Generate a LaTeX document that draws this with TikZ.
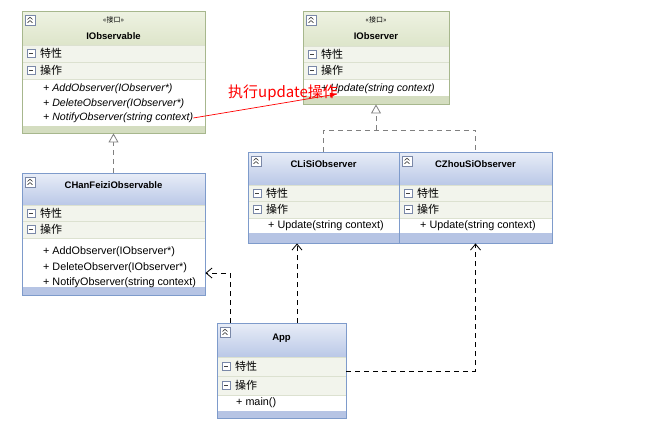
\documentclass[tikz,border=0pt]{standalone}
\usepackage{fontspec}
\setmainfont{Liberation Sans}
\newfontfamily\cjk{Noto Sans CJK SC}
\usetikzlibrary{arrows.meta,fit}
\definecolor{greentop}{HTML}{EEF2E2}
\definecolor{greenbot}{HTML}{DDE5CA}
\definecolor{greenstrip}{HTML}{D4DDC0}
\definecolor{greenborder}{HTML}{A7B78D}
\definecolor{bluetop}{HTML}{E8EDF7}
\definecolor{bluebot}{HTML}{BAC8E7}
\definecolor{bluestrip}{HTML}{B6C4E4}
\definecolor{blueborder}{HTML}{7E9BCB}
\definecolor{rowfill}{HTML}{F2F4EC}
\definecolor{rowsep}{HTML}{DCE1D0}
\definecolor{iconcol}{HTML}{7A88A8}
\definecolor{realcol}{HTML}{808080}

\tikzset{
  icon/.style={draw=iconcol, fill=white, line width=0.6pt},
  iconline/.style={draw=black!75, line width=0.6pt},
  method/.style={anchor=west, inner sep=0pt, font=\fontsize{10.8}{12}\selectfont},
  imethod/.style={method, font=\itshape\fontsize{10.6}{12}\selectfont},
  title/.style={inner sep=0pt, font=\bfseries\fontsize{9.5}{11}\selectfont},
  stereo/.style={inner sep=0pt, font=\cjk\fontsize{7}{8}\selectfont},
  rowlab/.style={anchor=west, inner sep=0pt, font=\cjk\fontsize{11}{12}\selectfont},
  realizeline/.style={draw=realcol, line width=0.8pt, dash pattern=on 5pt off 4pt},
  realize/.style={realizeline, -{Triangle[open,length=9pt,width=10pt,fill=white]}},
  dep/.style={draw=black, line width=0.8pt, dash pattern=on 5pt off 4pt, -{Straight Barb[length=6pt,width=10pt]}},
  callarrow/.style={draw=red, line width=0.7pt, -{Latex[length=7pt,width=5pt]}},
  calllabel/.style={inner sep=0pt, text=red, font=\cjk\fontsize{15}{17}\selectfont},
}

\newcommand\hdricon[2]{%
  \draw[icon] ({#1},{#2}) rectangle ({#1+10},{#2+10});
  \draw[iconline] ({#1+2.5},{#2+4.5}) -- ({#1+5},{#2+2.2}) -- ({#1+7.5},{#2+4.5});
  \draw[iconline] ({#1+2.5},{#2+7.8}) -- ({#1+5},{#2+5.5}) -- ({#1+7.5},{#2+7.8});
}
\newcommand\rowicon[2]{%
  \draw[icon] ({#1},{#2-4}) rectangle ({#1+8},{#2+4});
  \draw[iconline] ({#1+2},{#2}) -- ({#1+6},{#2});
}
% #1 name, #2 x1, #3 y1, #4 x2, #5 header bottom, #6 methods top, #7 methods bottom, #8 y2, #9 theme
\newcommand\umlbox[9]{%
  \shade[top color=#9top, bottom color=#9bot] (#2,#3) rectangle (#4,#5);
  \fill[rowfill] (#2,#5) rectangle (#4,#6);
  \fill[white] (#2,#6) rectangle (#4,#7);
  \fill[#9strip] (#2,#7) rectangle (#4,#8);
  \draw[rowsep, line width=0.6pt] (#2,#5) -- (#4,#5);
  \draw[rowsep, line width=0.6pt] (#2,{(#5+#6)/2}) -- (#4,{(#5+#6)/2});
  \draw[rowsep, line width=0.6pt] (#2,#6) -- (#4,#6);
  \node[fit={(#2,#3) (#4,#8)}, inner sep=0pt, draw=#9border, line width=0.9pt] (#1) {};
  \hdricon{#2+3}{#3+4}
  \rowicon{#2+5}{#5+(#6-#5)/4}
  \rowicon{#2+5}{#5+3*(#6-#5)/4}
  \node[rowlab] (#1-p) at ({#2+18},{#5+(#6-#5)/4}) {特性};
  \node[rowlab] (#1-o) at ({#2+18},{#5+3*(#6-#5)/4}) {操作};
}

\begin{document}
\begin{tikzpicture}[x=1pt,y=-1pt]
\useasboundingbox (0,0) rectangle (663,437);
\fill[white] (0,0) rectangle (663,437);

% IObservable
\umlbox{iobs}{22}{11}{205}{45}{79}{126}{133}{green}
\node[stereo] (iobs-s) at (113.5,20) {«接口»};
\node[title] (iobs-t) at (113.5,36) {IObservable};
\node[imethod] (iobs-m1) at (43,89) {+ AddObserver(IObserver*)};
\node[imethod] (iobs-m2) at (43,104) {+ DeleteObserver(IObserver*)};
\node[imethod] (iobs-m3) at (43,118) {+ NotifyObserver(string context)};

% IObserver
\umlbox{iobsr}{303}{11}{449}{46}{79}{96}{104}{green}
\node[stereo] (iobsr-s) at (376,20) {«接口»};
\node[title] (iobsr-t) at (376,36) {IObserver};
\node[imethod] (iobsr-m1) at (321,89) {+ Update(string context)};

% CHanFeiziObservable
\umlbox{chf}{22}{173}{205}{205}{238}{287}{295}{blue}
\node[title] (chf-t) at (113.5,185) {CHanFeiziObservable};
\node[method] (chf-m1) at (43,252) {+ AddObserver(IObserver*)};
\node[method] (chf-m2) at (43,268) {+ DeleteObserver(IObserver*)};
\node[method] (chf-m3) at (43,283) {+ NotifyObserver(string context)};

% CLiSiObserver
\umlbox{clisi}{248}{152}{399}{185}{218}{233}{243}{blue}
\node[title] (clisi-t) at (323.5,164) {CLiSiObserver};
\node[method] (clisi-m1) at (268,226) {+ Update(string context)};

% CZhouSiObserver
\umlbox{czhou}{399}{152}{552}{185}{218}{233}{243}{blue}
\node[title] (czhou-t) at (475.5,164) {CZhouSiObserver};
\node[method] (czhou-m1) at (420,226) {+ Update(string context)};

% App
\umlbox{app}{217}{323}{346}{357}{395}{411}{418}{blue}
\node[title] (app-t) at (281.5,338) {App};
\node[method] (app-m1) at (236,403) {+ main()};

% realizations
\draw[realize] (chf.north) -- (iobs.south);
\coordinate (jn) at (iobsr.south |- 0,130);
\draw[realizeline] (clisi.north) -- (clisi.north |- jn) -- (czhou.north |- jn) -- (czhou.north);
\draw[realize] (jn) -- (iobsr.south);

% dependencies
\coordinate (d1) at (230,323);
\coordinate (d2) at (297,323);
\draw[dep] (d1) |- (chf.east |- 0,273);
\draw[dep] (d2) -- (clisi.south -| d2);
\draw[dep] (app.east |- 0,371) -| (czhou.south);

% call arrow
\coordinate (re) at (337,94);
\draw[callarrow] (iobs-m3.east) -- (re);
\node[calllabel] (lbl) at (283,93) {执行update操作};
\end{tikzpicture}
\end{document}
